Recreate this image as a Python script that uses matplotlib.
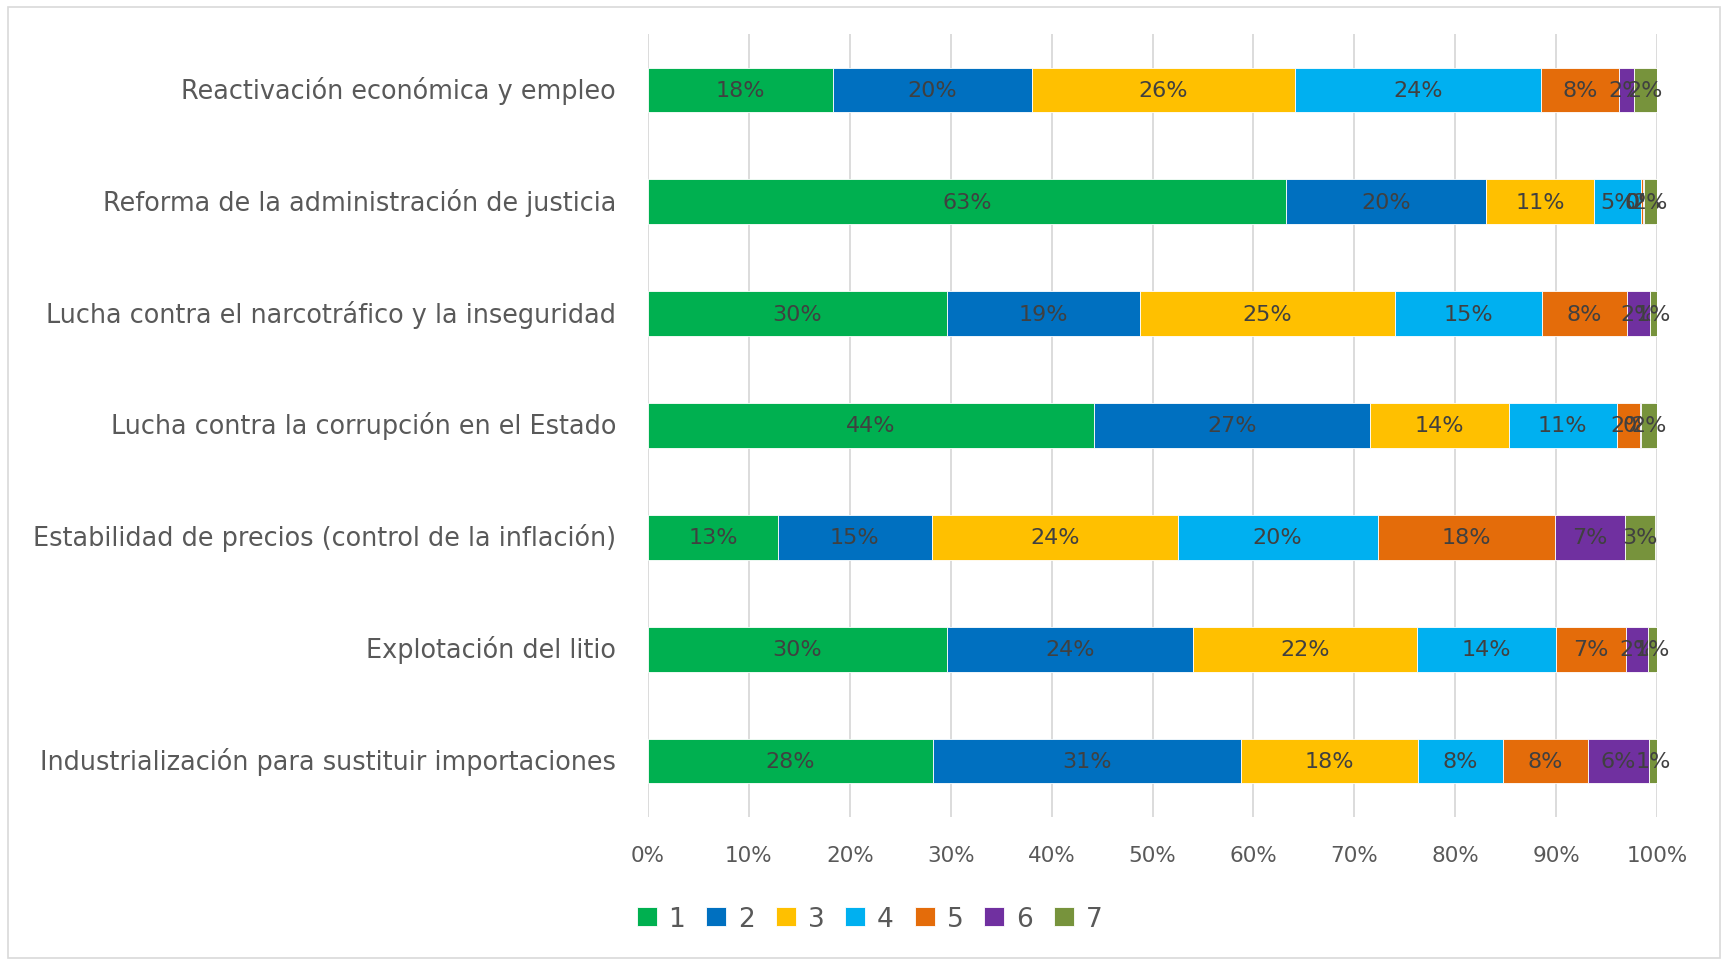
import matplotlib
matplotlib.use("Agg")
from matplotlib import pyplot as plt
from matplotlib.patches import Rectangle
import numpy as np

categories = ['Reactivación económica y empleo',
              'Reforma de la administración de justicia',
              'Lucha contra el narcotráfico y la inseguridad',
              'Lucha contra la corrupción en el Estado',
              'Estabilidad de precios (control de la inflación)',
              'Explotación del litio',
              'Industrialización para sustituir importaciones']
series_names = ['1', '2', '3', '4', '5', '6', '7']

# share of answers per rank (percent), one list per series, rows follow categories
s1 = [18.3, 63.2, 29.6, 44.2, 12.9, 29.6, 28.2]
s2 = [19.8, 19.9, 19.2, 27.4, 15.2, 24.4, 30.6]
s3 = [26.0, 10.7, 25.2, 13.7, 24.4, 22.2, 17.5]
s4 = [24.4, 4.6, 14.6, 10.7, 19.8, 13.8, 8.4]
s5 = [7.7, 0.2, 8.4, 2.3, 17.6, 6.9, 8.5]
s6 = [1.5, 0.1, 2.3, 0.1, 6.9, 2.2, 6.0]
s7 = [2.3, 1.6, 0.9, 1.6, 3.0, 0.9, 0.8]
xticks = [0, 10, 20, 30, 40, 50, 60, 70, 80, 90, 100]

colors = ['#00B050', '#0070C0', '#FFC000', '#00B0F0', '#E46C0A', '#7030A0', '#77933C']
txt = '#595959'
lbl = '#404040'
font = 'DejaVu Sans'

data = np.array([s1, s2, s3, s4, s5, s6, s7])

fig = plt.figure(figsize=(17.22, 9.62), dpi=100)
ax = fig.add_axes([648/1722, 1-818/962, (1657-648)/1722, (818-35)/962])

y = np.arange(len(categories))
left = np.zeros(len(categories))
for i, name in enumerate(series_names):
    vals = data[i]
    bars = ax.barh(y, vals, left=left, height=0.4, color=colors[i],
                   edgecolor='white', linewidth=0.6, label=name, zorder=3)
    ax.bar_label(bars, labels=['%d%%' % round(v) for v in vals],
                 label_type='center', color=lbl, fontsize=16, family=font)
    left += vals

ax.set_ylim(len(categories) - 0.5, -0.5)
ax.set_xlim(0, 100)
ax.set_yticks(y)
ax.set_yticklabels(categories, fontsize=18.4, color=txt, family=font)
for t in ax.get_yticklabels():
    t.set_va('center')
ax.set_xticks(xticks)
ax.set_xticklabels(['%d%%' % t for t in xticks], fontsize=15.5, color=txt, family=font)
ax.tick_params(axis='both', length=0)
ax.tick_params(axis='y', pad=23)
ax.tick_params(axis='x', pad=20)
ax.grid(True, axis='x', color='#d9d9d9', linewidth=1.3, zorder=0)
for s in ax.spines.values():
    s.set_visible(False)

leg = fig.legend(loc='center', bbox_to_anchor=(0.505, 1-920/962), ncol=7,
                 frameon=False, handlelength=0.75, handleheight=0.75,
                 handletextpad=0.45, columnspacing=0.8,
                 prop={'family': font, 'size': 19})
for t in leg.get_texts():
    t.set_color(txt)

fig.patches.append(Rectangle((8/1722, 0.003), 1712/1722, 1-8/962-0.003,
                             transform=fig.transFigure, fill=False,
                             edgecolor='#d9d9d9', linewidth=1.2))

fig.savefig('out.png', dpi=100)
